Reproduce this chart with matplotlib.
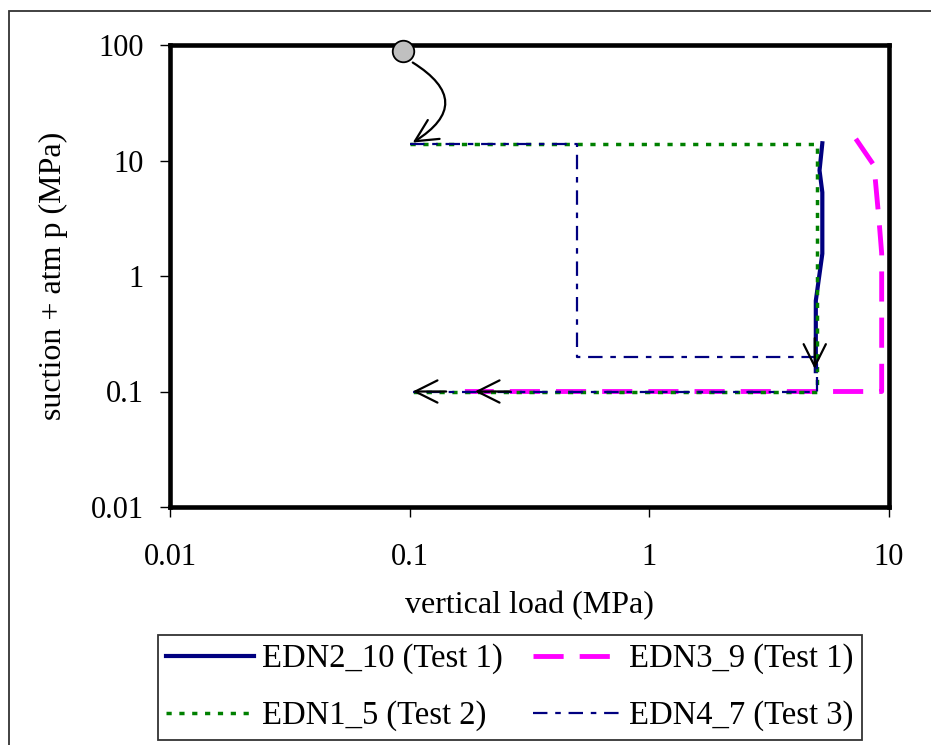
import matplotlib
matplotlib.use("Agg")
import matplotlib.pyplot as plt
from matplotlib.patches import Rectangle
from matplotlib.ticker import FixedLocator, FixedFormatter, NullLocator

plt.rcParams['font.family'] = ['Liberation Serif', 'DejaVu Serif']

# ---- data ----
edn2_10_x = [5.27, 5.13, 5.27, 5.27, 4.95, 4.95]
edn2_10_y = [14.1, 8.2, 5.3, 1.56, 0.61, 0.15]

edn3_9_x = [7.27, 8.66, 9.09, 9.32, 9.32, 0.17]
edn3_9_y = [15.4, 9.05, 3.0, 1.57, 0.1, 0.1]

edn1_5_x = [0.1, 5.03, 5.03, 0.1]
edn1_5_y = [14.0, 14.0, 0.1, 0.1]

edn4_7_x = [0.1, 0.5, 0.5, 5.03, 5.03, 0.1]
edn4_7_y = [14.0, 14.0, 0.2, 0.2, 0.1, 0.1]

start_x, start_y = 0.094, 88.0

x_ticks = [0.01, 0.1, 1, 10]
x_tick_labels = ["0.01", "0.1", "1", "10"]
y_ticks = [0.01, 0.1, 1, 10, 100]
y_tick_labels = ["0.01", "0.1", "1", "10", "100"]

labels = ["EDN2_10 (Test 1)", "EDN3_9 (Test 1)", "EDN1_5 (Test 2)", "EDN4_7 (Test 3)"]

W, H = 931, 745
fig = plt.figure(figsize=(W / 100, H / 100), dpi=100)
ax = fig.add_axes([170 / W, 1 - 507 / H, (889 - 170) / W, (507 - 45) / H])

ax.set_xscale('log')
ax.set_yscale('log')
ax.set_xlim(0.01, 10)
ax.set_ylim(0.01, 100)

l1, = ax.plot(edn2_10_x, edn2_10_y, color='#000080', lw=3.0, solid_joinstyle='round', zorder=4)
l2, = ax.plot(edn3_9_x, edn3_9_y, color='#FF00FF', lw=3.5, dashes=(6.2, 3.3), zorder=3)
l3, = ax.plot(edn1_5_x, edn1_5_y, color='#008000', lw=2.5, dashes=(1.5, 2.2), zorder=5)
l4, = ax.plot(edn4_7_x, edn4_7_y, color='#000080', lw=1.6, dashes=(6.5, 3.5, 2.5, 3.5), zorder=6)

ax.plot([start_x], [start_y], marker='o', ms=15.5, mfc='#C0C0C0', mec='black', mew=1.3,
        clip_on=False, zorder=10, linestyle='none')

arrow_kw = dict(arrowstyle='->,head_length=1.6,head_width=0.8', color='black', lw=1.6,
                shrinkA=0, shrinkB=0)
ax.annotate('', xy=(0.103, 14.3), xytext=(0.103, 70.5),
            arrowprops=dict(connectionstyle='arc3,rad=-0.8', **arrow_kw), zorder=9)
ax.annotate('', xy=(4.9, 0.157), xytext=(4.9, 0.29), arrowprops=arrow_kw, zorder=9)
ax.annotate('', xy=(0.103, 0.1), xytext=(0.142, 0.1), arrowprops=arrow_kw, zorder=9)
ax.annotate('', xy=(0.187, 0.1), xytext=(0.262, 0.1), arrowprops=arrow_kw, zorder=9)

ax.xaxis.set_major_locator(FixedLocator(x_ticks))
ax.xaxis.set_major_formatter(FixedFormatter(x_tick_labels))
ax.xaxis.set_minor_locator(NullLocator())
ax.yaxis.set_major_locator(FixedLocator(y_ticks))
ax.yaxis.set_major_formatter(FixedFormatter(y_tick_labels))
ax.yaxis.set_minor_locator(NullLocator())

ax.tick_params(axis='both', direction='out', length=7, width=1, labelsize=22, colors='black')
ax.tick_params(axis='y', pad=12)
ax.tick_params(axis='x', pad=19)

for sp in ax.spines.values():
    sp.set_linewidth(3.3)
    sp.set_zorder(8)

ax.set_xlabel('vertical load (MPa)', fontsize=23)
ax.set_ylabel('suction + atm p (MPa)', fontsize=23)
ax.xaxis.set_label_coords(0.5, (507 - 591) / 462)
ax.yaxis.set_label_coords((68 - 170) / 719, 0.5)

# outer chart frame (only left and top edges visible)
fig.patches.append(Rectangle((9 / W, -0.2), 1.3, 1 - 11 / H + 0.2, transform=fig.transFigure,
                             fill=False, edgecolor='#333333', lw=1.3))

leg = fig.legend([l1, l3, l2, l4], [labels[0], labels[2], labels[1], labels[3]],
                 ncol=2, loc='center', mode='expand',
                 bbox_to_anchor=(158 / W, 1 - 740 / H, (862 - 158) / W, 105 / H),
                 fontsize=23.5, frameon=True, fancybox=False, shadow=False,
                 handlelength=2.7, handletextpad=0.25, columnspacing=0.5,
                 borderpad=0.25, borderaxespad=0, labelspacing=0.8)
leg.get_frame().set_edgecolor('black')
leg.get_frame().set_linewidth(1.3)

fig.savefig('out.png', dpi=100)
